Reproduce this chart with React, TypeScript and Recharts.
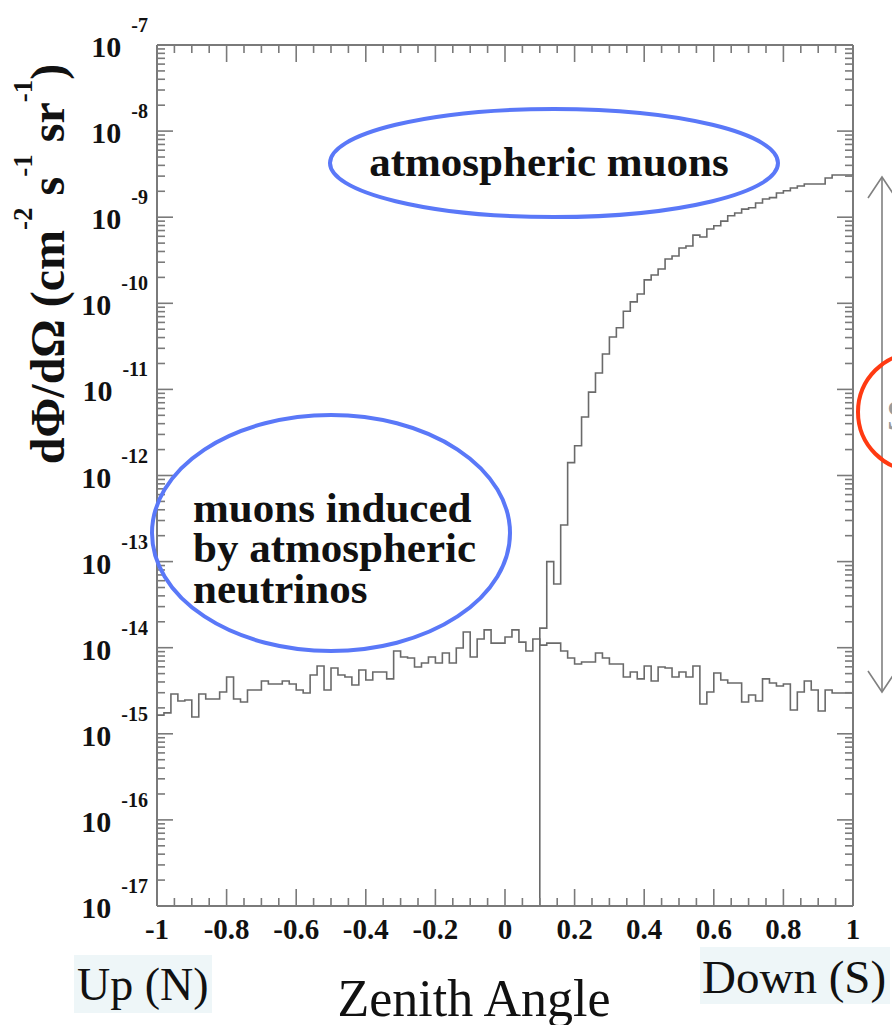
import { LineChart, Line, XAxis, YAxis, ReferenceLine } from 'recharts'

// histogram binning (cos zenith, 100 bins from -1 to 1)
const X_MIN = -1
const X_MAX = 1
const BIN_WIDTH = 0.02
const ATM_START = 0.1

// muons induced by atmospheric neutrinos, one value per bin (cm-2 s-1 sr-1)
const NU_FLUX = [
  1.65e-15, 1.75e-15, 2.9e-15, 2.4e-15, 2.47e-15, 1.57e-15, 2.9e-15, 2.54e-15, 2.54e-15, 3.06e-15,
  4.57e-15, 2.54e-15, 2.34e-15, 3.23e-15, 3.23e-15, 4.1e-15, 3.79e-15, 3.79e-15, 4.1e-15, 3.79e-15,
  3.23e-15, 2.98e-15, 4.82e-15, 6.12e-15, 3.23e-15, 5.81e-15, 4.82e-15, 4.57e-15, 3.69e-15, 5.51e-15,
  4.22e-15, 5.22e-15, 5.22e-15, 4.34e-15, 9.16e-15, 7.8e-15, 7.59e-15, 5.97e-15, 6.64e-15, 7.8e-15,
  6.64e-15, 8.67e-15, 6.64e-15, 9.93e-15, 1.52e-14, 7.8e-15, 1.26e-14, 1.61e-14, 1.13e-14, 1.13e-14,
  1.33e-14, 1.61e-14, 1.16e-14, 9.16e-15, 1.26e-14, 1.07e-14, 1.13e-14, 1.13e-14, 9.16e-15, 7.59e-15,
  6.47e-15, 6.82e-15, 6.82e-15, 8.67e-15, 7.59e-15, 6.47e-15, 6.47e-15, 4.57e-15, 5.22e-15, 4.34e-15,
  6.12e-15, 4.1e-15, 5.97e-15, 5.81e-15, 4.57e-15, 5.22e-15, 4.57e-15, 6.12e-15, 2.22e-15, 3.06e-15,
  5.08e-15, 4.22e-15, 3.89e-15, 3.89e-15, 2.34e-15, 2.82e-15, 2.4e-15, 4.34e-15, 3.89e-15, 3.59e-15,
  3.79e-15, 1.89e-15, 3.06e-15, 4.1e-15, 3.23e-15, 1.84e-15, 3.23e-15, 2.98e-15, 2.98e-15, 2.98e-15,
]

// atmospheric muons, bins from cos = 0.1 up to 1
const ATM_FLUX = [
  1.69e-14, 1.0e-13, 5.5e-14, 2.66e-13, 1.41e-12, 2.22e-12, 4.78e-12, 9.3e-12, 1.55e-11, 2.58e-11,
  4.06e-11, 5.2e-11, 8.1e-11, 1.04e-10, 1.28e-10, 1.87e-10, 2.13e-10, 2.5e-10, 3.27e-10, 3.54e-10,
  4.39e-10, 4.63e-10, 6.2e-10, 5.9e-10, 7.3e-10, 7.96e-10, 9.0e-10, 1.04e-9, 1.12e-9, 1.24e-9,
  1.29e-9, 1.46e-9, 1.63e-9, 1.69e-9, 1.91e-9, 2.03e-9, 2.18e-9, 2.3e-9, 2.43e-9, 2.43e-9,
  2.43e-9, 2.85e-9, 3.09e-9, 3.09e-9, 3.09e-9,
]

const X_TICKS = [-1, -0.8, -0.6, -0.4, -0.2, 0, 0.2, 0.4, 0.6, 0.8, 1]
const X_TICK_LABELS = ['-1', '-0.8', '-0.6', '-0.4', '-0.2', '0', '0.2', '0.4', '0.6', '0.8', '1']
const Y_DECADES = [-17, -16, -15, -14, -13, -12, -11, -10, -9, -8, -7]
const Y_MIN = 1e-17
const Y_MAX = 1e-7

const W = 892
const H = 1025
const PLOT = { left: 157, right: 853, top: 45, bottom: 906 }
const X_AXIS_H = 40
const Y_AXIS_W = 80

const FRAME = '#7a7a7a'
const HIST = '#6a6a6a'
const BLUE = '#5a78f8'
const RED = '#ff3a12'
const SERIF = '"Liberation Serif", "DejaVu Serif", serif'

const r4 = (v: number) => Number(v.toFixed(4))

// step points: left edge of each bin, closed at the right end
const nuData = [
  ...NU_FLUX.map((v, i) => ({ x: r4(X_MIN + i * BIN_WIDTH), v })),
  { x: X_MAX, v: NU_FLUX[NU_FLUX.length - 1] },
]
const atmData = [
  { x: ATM_START, v: Y_MIN },
  ...ATM_FLUX.map((v, i) => ({ x: r4(ATM_START + i * BIN_WIDTH), v })),
  { x: X_MAX, v: ATM_FLUX[ATM_FLUX.length - 1] },
]

// minor ticks every 0.05, majors every 0.2
const xTickValues = Array.from({ length: 41 }, (_, i) => r4(X_MIN + i * 0.05))
const yTickValues: number[] = []
Y_DECADES.forEach((e) => {
  if (e === -7) { yTickValues.push(Y_MAX); return }
  for (let k = 1; k <= 9; k++) yTickValues.push(Number((k * Math.pow(10, e)).toPrecision(6)))
})

function XTick(props: any) {
  const { x, payload } = props
  const idx = X_TICKS.findIndex((t) => Math.abs(t - payload.value) < 1e-6)
  const len = idx >= 0 ? 17 : 8
  return (
    <g>
      <line x1={x} y1={PLOT.bottom} x2={x} y2={PLOT.bottom - len} stroke={FRAME} strokeWidth={1.6} />
      <line x1={x} y1={PLOT.top} x2={x} y2={PLOT.top + len} stroke={FRAME} strokeWidth={1.6} />
      {idx >= 0 && (
        <text x={x} y={PLOT.bottom + 33} textAnchor="middle" fontFamily={SERIF} fontWeight="bold" fontSize={29} fill="#111">
          {X_TICK_LABELS[idx]}
        </text>
      )}
    </g>
  )
}

function YTick(props: any) {
  const { y, payload } = props
  const e = Math.log10(payload.value)
  const major = Math.abs(e - Math.round(e)) < 1e-6
  const len = major ? 16 : 8
  return (
    <g>
      <line x1={PLOT.left} y1={y} x2={PLOT.left + len} y2={y} stroke={FRAME} strokeWidth={1.6} />
      <line x1={PLOT.right} y1={y} x2={PLOT.right - len} y2={y} stroke={FRAME} strokeWidth={1.6} />
      {major && (
        <text x={PLOT.left - 9} y={y + 12} textAnchor="end" fontFamily={SERIF} fontWeight="bold" fontSize={30} fill="#111">
          <tspan>10</tspan>
          <tspan dx={10} dy={-25} fontSize={20}>{String(Math.round(e))}</tspan>
        </text>
      )}
    </g>
  )
}

function Annotations() {
  return (
    <svg width={W} height={H} style={{ position: 'absolute', left: 0, top: 0, pointerEvents: 'none' }}>
      {/* y axis title */}
      <text transform="translate(64, 264) rotate(-90)" textAnchor="middle" fontFamily={SERIF} fontWeight="bold" fontSize={48} fill="#111">
        <tspan>dΦ/dΩ (cm</tspan>
        <tspan dy={-32} fontSize={27}>-2</tspan>
        <tspan dy={32}>{' s'}</tspan>
        <tspan dy={-32} fontSize={27}>-1</tspan>
        <tspan dy={32}>{' sr'}</tspan>
        <tspan dy={-32} fontSize={27}>-1</tspan>
        <tspan dy={32}>)</tspan>
      </text>

      {/* labels under the axis */}
      <rect x={74} y={955} width={138} height={58} fill="#eef6f8" />
      <text x={77} y={1000} fontFamily={SERIF} fontSize={46} fill="#111">Up (N)</text>
      <rect x={700} y={947} width={190} height={57} fill="#eef6f8" />
      <text x={702} y={993} fontFamily={SERIF} fontSize={47} fill="#111">Down (S)</text>
      <text x={474} y={1016} textAnchor="middle" fontFamily={SERIF} fontSize={52} fill="#111">Zenith Angle</text>

      {/* callouts */}
      <ellipse cx={554} cy={163} rx={224} ry={54} fill="none" stroke={BLUE} strokeWidth={4} />
      <text x={549} y={176} textAnchor="middle" fontFamily={SERIF} fontWeight="bold" fontSize={43} fill="#111">
        atmospheric muons
      </text>
      <ellipse cx={331} cy={533} rx={179} ry={118} fill="none" stroke={BLUE} strokeWidth={4} />
      <text fontFamily={SERIF} fontWeight="bold" fontSize={43} fill="#111">
        <tspan x={193} y={522}>muons induced</tspan>
        <tspan x={193} y={562}>by atmospheric</tspan>
        <tspan x={193} y={603}>neutrinos</tspan>
      </text>

      {/* double arrow and red circle at the right edge */}
      <line x1={882} y1={177} x2={882} y2={692} stroke="#808080" strokeWidth={1.6} />
      <polyline points="868,198 882,177 896,198" fill="none" stroke="#808080" strokeWidth={1.6} />
      <polyline points="868,671 882,692 896,671" fill="none" stroke="#808080" strokeWidth={1.6} />
      <circle cx={917} cy={412} r={59} fill="none" stroke={RED} strokeWidth={4} />
      <text x={886} y={430} fontFamily={SERIF} fontSize={44} fill="#9a9a9a">S</text>
    </svg>
  )
}

export default function App() {
  return (
    <div style={{ position: 'absolute', left: 0, top: 0, width: W, height: H, background: '#fff' }}>
      <LineChart
        width={W}
        height={H}
        margin={{
          top: PLOT.top,
          right: W - PLOT.right,
          bottom: H - PLOT.bottom - X_AXIS_H,
          left: PLOT.left - Y_AXIS_W,
        }}
      >
        <XAxis
          type="number"
          dataKey="x"
          domain={[X_MIN, X_MAX]}
          ticks={xTickValues}
          interval={0}
          height={X_AXIS_H}
          axisLine={false}
          tickLine={false}
          tickSize={0}
          tickMargin={0}
          tick={<XTick />}
          allowDataOverflow
        />
        <YAxis
          type="number"
          dataKey="v"
          scale="log"
          domain={[Y_MIN, Y_MAX]}
          ticks={yTickValues}
          interval={0}
          width={Y_AXIS_W}
          axisLine={false}
          tickLine={false}
          tickSize={0}
          tickMargin={0}
          tick={<YTick />}
          allowDataOverflow
        />
        <ReferenceLine x={X_MIN} stroke={FRAME} strokeWidth={2} />
        <ReferenceLine x={X_MAX} stroke={FRAME} strokeWidth={2} />
        <ReferenceLine y={Y_MIN} stroke={FRAME} strokeWidth={2} />
        <ReferenceLine y={Y_MAX} stroke={FRAME} strokeWidth={2} />
        <Line
          data={nuData}
          dataKey="v"
          type="stepAfter"
          stroke={HIST}
          strokeWidth={1.6}
          dot={false}
          activeDot={false}
          isAnimationActive={false}
        />
        <Line
          data={atmData}
          dataKey="v"
          type="stepAfter"
          stroke={HIST}
          strokeWidth={1.6}
          dot={false}
          activeDot={false}
          isAnimationActive={false}
        />
      </LineChart>
      <Annotations />
    </div>
  )
}
